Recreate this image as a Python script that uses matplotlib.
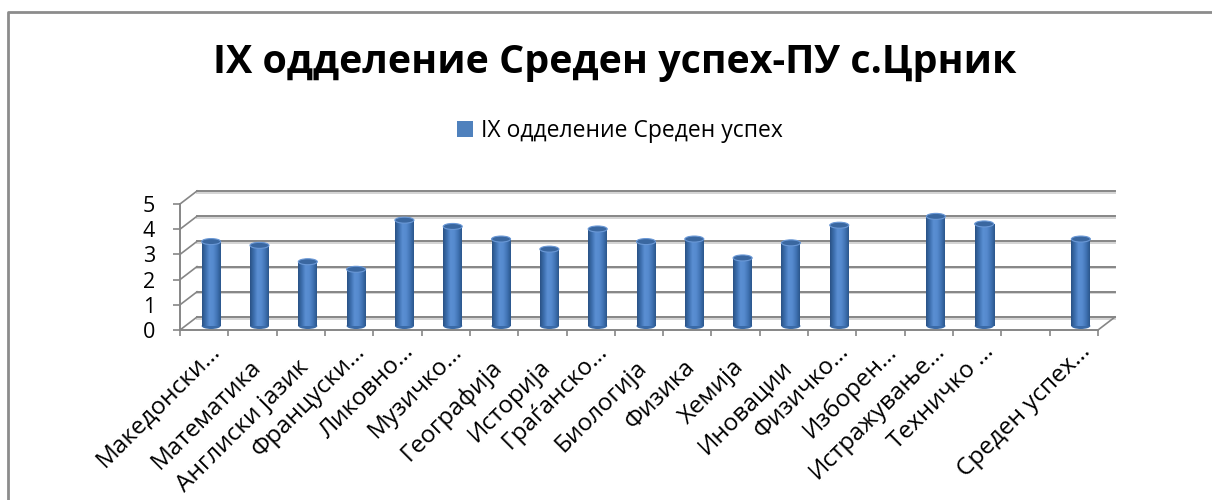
import numpy as np
import matplotlib
matplotlib.use('Agg')
import matplotlib.pyplot as plt
from matplotlib.patches import Ellipse, Patch
from matplotlib.lines import Line2D
from matplotlib.colors import LinearSegmentedColormap

plt.rcParams['font.family'] = ['Open Sans', 'DejaVu Sans']

TITLE = 'IX одделение Среден успех-ПУ с.Црник'
SERIES = 'IX одделение Среден успех'

subjects = ['Македонски…', 'Математика', 'Англиски јазик', 'Француски…',
            'Ликовно…', 'Музичко…', 'Географија', 'Историја', 'Граѓанско…',
            'Биологија', 'Физика', 'Хемија', 'Иновации', 'Физичко…',
            'Изборен…', 'Истражување…', 'Техничко …', '', 'Среден успех…']
grades = [3.35, 3.2, 2.55, 2.25, 4.2, 3.95, 3.45, 3.05, 3.85,
          3.35, 3.45, 2.7, 3.3, 4.0, np.nan, 4.35, 4.05, np.nan, 3.45]
y_ticks = [0, 1, 2, 3, 4, 5]

W, H = 1212, 500
fig = plt.figure(figsize=(W / 100, H / 100), dpi=100)

# chart area border: only left and top edges show in the picture
fig.lines.append(Line2D([8 / W, 8 / W, 1.05], [-0.05, 1 - 12 / H, 1 - 12 / H],
                        transform=fig.transFigure, color='#8c8c8c', lw=2))

# front plane of the plot area, in pixels
x0, x1 = 180, 1098
y_front0, y_front5 = 330, 204
ax = fig.add_axes([x0 / W, 1 - y_front0 / H, (x1 - x0) / W, (y_front0 - y_front5) / H])
n = len(subjects)

px = n / (x1 - x0)              # data units per pixel, x
py = 5 / (y_front0 - y_front5)  # data units per pixel, y
dx, dy = 17 * px, 13 * py       # depth of the 3d box
grid_c = '#868686'
shadow_c = '#d4d4d4'

# back wall gridlines + left wall diagonals
for t in y_ticks:
    ax.plot([-0.5 + dx, n - 0.5 + dx], [t + dy, t + dy], color=grid_c, lw=1.4,
            clip_on=False, zorder=1)
    ax.plot([-0.5 + dx, n - 0.5 + dx], [t + dy - 1.6 * py, t + dy - 1.6 * py],
            color=shadow_c, lw=1.4, clip_on=False, zorder=0.9)
    ax.plot([-0.5, -0.5 + dx], [t, t + dy], color=grid_c, lw=1.2,
            clip_on=False, zorder=1)
# floor right edge
ax.plot([n - 0.5, n - 0.5 + dx], [0, dy], color=grid_c, lw=1.2,
        clip_on=False, zorder=1)

for side in ['top', 'right']:
    ax.spines[side].set_visible(False)
for side in ['left', 'bottom']:
    ax.spines[side].set_color(grid_c)
    ax.spines[side].set_linewidth(1.4)

ax.set_yticks(y_ticks)
ax.set_yticklabels([str(t) for t in y_ticks])
ax.tick_params(axis='y', length=5, width=1.2, color=grid_c, labelsize=15.5,
               pad=13, labelcolor='black')
ax.set_xticks(np.arange(-0.5, n, 1))
ax.set_xticklabels([])
ax.tick_params(axis='x', length=4.3, width=1.2, color=grid_c)

# cylinders
cyl = LinearSegmentedColormap.from_list(
    'cyl', ['#2a5285', '#3d6fae', '#5a8fd3', '#568ace', '#4174b5', '#2b578c'])
grad = np.linspace(0, 1, 64).reshape(1, -1)
bw = 19 * px
bx = np.arange(n) + 7 * px
base = 4 * py
cap_h = 6 * py
heights = np.nan_to_num(np.array(grades))
bars = ax.bar(bx, heights, width=bw, bottom=base, color='#4a7dbf',
              linewidth=0, zorder=3)
for rect, xc, v in zip(bars, bx, grades):
    if np.isnan(v):
        rect.set_visible(False)
        continue
    ax.add_patch(Ellipse((xc, base), bw, cap_h, fc='#3a6aa7', ec='none', zorder=2.5))
    im = ax.imshow(grad, cmap=cyl, aspect='auto', zorder=3.2,
                   extent=[xc - bw / 2, xc + bw / 2, base, base + v])
    im.set_clip_path(rect)
    ax.add_patch(Ellipse((xc, base + v), bw, cap_h, fc='#3a67a0',
                         ec='#6a98d6', lw=0.8, zorder=4))
ax.set_xlim(-0.5, n - 0.5)
ax.set_ylim(0, 5)

# rotated category labels
for i, lab in enumerate(subjects):
    if not lab:
        continue
    if lab.endswith('…'):
        ox, oy = 17, 22
    else:
        ox, oy = 9, 38
    ax.text(i + ox * px, -oy * py, lab, rotation=45, rotation_mode='anchor',
            ha='right', va='baseline', fontsize=17.5, clip_on=False)

fig.text(615 / W, 1 - 62 / H, TITLE, ha='center', va='center',
         fontsize=28.4, fontweight='bold')
fig.legend(handles=[Patch(fc='#4f81bd', ec='none')], labels=[SERIES],
           loc='center', bbox_to_anchor=(620 / W, 1 - 131 / H), frameon=False,
           handlelength=0.7, handleheight=0.7, handletextpad=0.35, fontsize=16.5)

fig.savefig('out.png', dpi=100, facecolor='white')
